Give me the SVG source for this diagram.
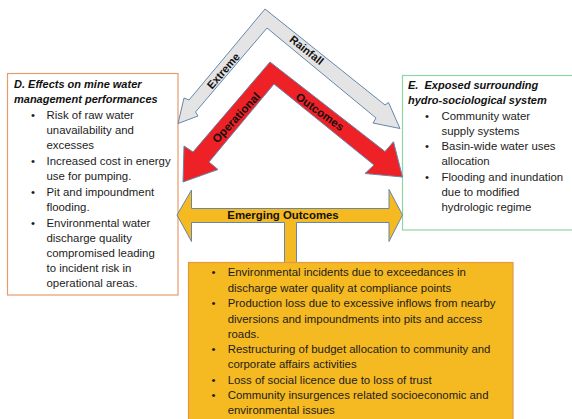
<svg xmlns="http://www.w3.org/2000/svg" width="572" height="419" viewBox="0 0 572 419">
  <style>
    .txt { font-family: "Liberation Sans", Arial, sans-serif; font-size: 11.4px; fill: #1c1c1c; }
    .title { font-family: "Liberation Sans", Arial, sans-serif; font-size: 11px; font-weight: bold; font-style: italic; fill: #111; }
    .lbl { font-family: "Liberation Sans", Arial, sans-serif; font-weight: bold; fill: #111; text-anchor: middle; }
    .arrow { stroke: #6587AE; stroke-width: 1; stroke-linejoin: miter; }
  </style>

  <rect width="572" height="419" fill="#ffffff"/>

  <!-- D: mine water management box -->
  <g id="node-d">
    <rect x="7.5" y="73.5" width="170.5" height="221.5" fill="#ffffff" stroke="#E69C6C" stroke-width="1.2"/>
    <text class="title" x="14" y="88.3">D. Effects on mine water</text>
    <text class="title" x="14" y="102.7">management performances</text>
    <g class="txt">
      <text x="31" y="119.3">•</text><text x="46.5" y="119.3">Risk of raw water</text>
      <text x="46.5" y="134.3">unavailability and</text>
      <text x="46.5" y="149.3">excesses</text>
      <text x="31" y="165">•</text><text x="46.5" y="165">Increased cost in energy</text>
      <text x="46.5" y="180">use for pumping.</text>
      <text x="31" y="195.7">•</text><text x="46.5" y="195.7">Pit and impoundment</text>
      <text x="46.5" y="210.7">flooding.</text>
      <text x="31" y="226.7">•</text><text x="46.5" y="226.7">Environmental water</text>
      <text x="46.5" y="241.7">discharge quality</text>
      <text x="46.5" y="256.7">compromised leading</text>
      <text x="46.5" y="271.7">to incident risk in</text>
      <text x="46.5" y="286.7">operational areas.</text>
    </g>
  </g>

  <!-- E: surrounding hydro-sociological system box -->
  <g id="node-e">
    <rect x="402.5" y="75.5" width="180" height="154.5" fill="#ffffff" stroke="#8ED6A4" stroke-width="1.2"/>
    <text class="title" x="408" y="89.3">E.&#160; Exposed surrounding</text>
    <text class="title" x="408" y="104">hydro-sociological system</text>
    <g class="txt">
      <text x="425" y="120">•</text><text x="441.5" y="120">Community water</text>
      <text x="441.5" y="135">supply systems</text>
      <text x="425" y="150">•</text><text x="441.5" y="150">Basin-wide water uses</text>
      <text x="441.5" y="165">allocation</text>
      <text x="425" y="180.7">•</text><text x="441.5" y="180.7">Flooding and inundation</text>
      <text x="441.5" y="195.7">due to modified</text>
      <text x="441.5" y="211">hydrologic regime</text>
    </g>
  </g>

  <g id="connectors">
    <!-- extreme rainfall chevron -->
    <g id="rainfall-arrow">
      <polygon class="arrow" fill="#E4E4E4"
        points="265,9 189,100 184,98 178,123.5 198,116 195.5,112 267,28 376,118 373,123 400,128.5 388.5,102.5 385,105"/>
      <text class="lbl" font-size="11" transform="translate(223.3,70.8) rotate(-49)" dy="0.36em">Extreme</text>
      <text class="lbl" font-size="11" transform="translate(306.7,50) rotate(38.5)" dy="0.36em">Rainfall</text>
    </g>

    <!-- operational outcomes chevron -->
    <g id="operational-arrow">
      <polygon class="arrow" fill="#EE2226"
        points="270,62 193,152 184,146 183,182 218,169.5 209,162 274,84 374,165 365,173.5 402.5,177 393.5,141.7 385,151.5"/>
      <text class="lbl" font-size="11.5" transform="translate(236,117.5) rotate(-47)" dy="0.36em">Operational</text>
      <text class="lbl" font-size="11.5" transform="translate(320,111.7) rotate(36)" dy="0.36em">Outcomes</text>
    </g>

    <!-- emerging outcomes double arrow with stem -->
    <g id="emerging-arrow">
      <polygon class="arrow" fill="#F5B921"
        points="177,215 191.5,190 191.5,208.5 389,208.5 389,189.5 402.5,215 389,241.5 389,222.5 296.5,222.5 296.5,263 284.5,263 284.5,222.5 191.5,222.5 191.5,241.5"/>
      <text class="lbl" font-size="11.4" x="283" y="218.5">Emerging Outcomes</text>
    </g>
  </g>

  <!-- emerging outcomes list -->
  <g id="node-outcomes">
    <rect x="188.5" y="262.5" width="324.5" height="170" fill="#F5B921" stroke="#E39A45" stroke-width="1.2"/>
    <g class="txt">
      <text x="211.5" y="276">•</text><text x="227.7" y="276">Environmental incidents due to exceedances in</text>
      <text x="227.7" y="291.7">discharge water quality at compliance points</text>
      <text x="211.5" y="307.3">•</text><text x="227.7" y="307.3">Production loss due to excessive inflows from nearby</text>
      <text x="227.7" y="322.7">diversions and impoundments into pits and access</text>
      <text x="227.7" y="337.7">roads.</text>
      <text x="211.5" y="353.3">•</text><text x="227.7" y="353.3">Restructuring of budget allocation to community and</text>
      <text x="227.7" y="368.3">corporate affairs activities</text>
      <text x="211.5" y="384.3">•</text><text x="227.7" y="384.3">Loss of social licence due to loss of trust</text>
      <text x="211.5" y="399.3">•</text><text x="227.7" y="399.3">Community insurgences related socioeconomic and</text>
      <text x="227.7" y="414.3">environmental issues</text>
    </g>
  </g>
</svg>
